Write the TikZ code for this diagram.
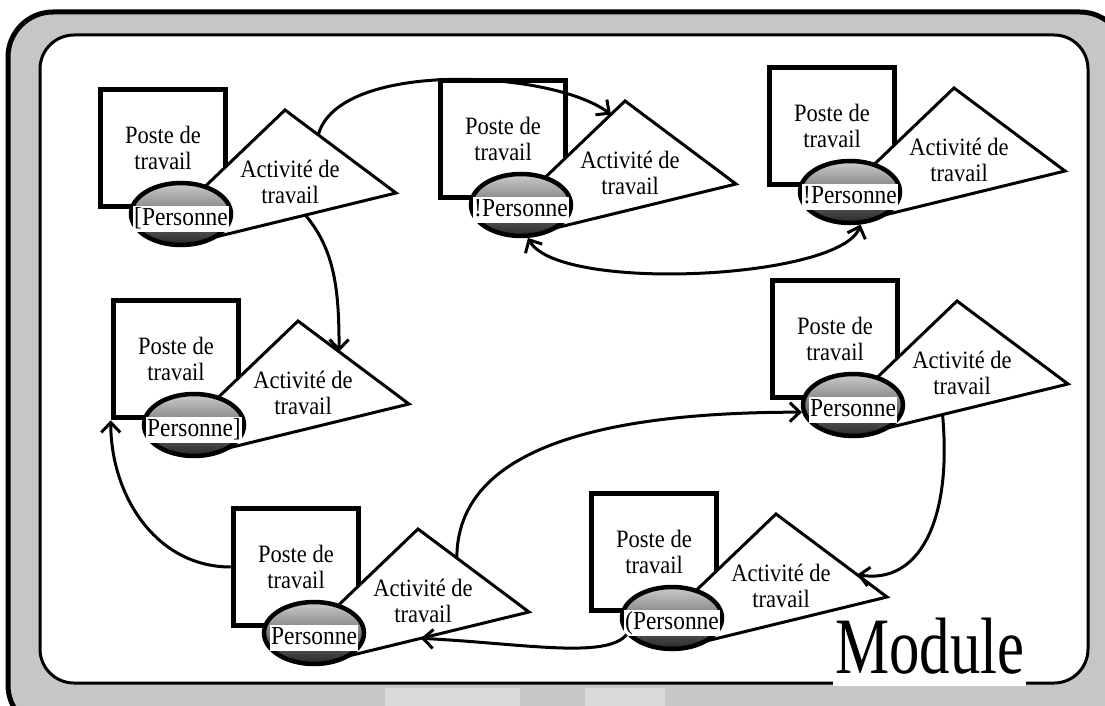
\documentclass[tikz,border=0pt]{standalone}
\usepackage{fontspec}
\setmainfont[FakeStretch=0.9]{Liberation Serif}
\newfontfamily\modulefont[FakeStretch=0.76]{Liberation Serif}
\usetikzlibrary{shapes.geometric,arrows.meta,calc}

\begin{document}
\begin{tikzpicture}[
  x=1pt, y=-1pt,
  >={Straight Barb[length=10pt,width=19pt]},
  poste/.style={draw, line width=5.5pt, fill=white, minimum width=125pt, minimum height=117pt,
    align=center, font=\fontsize{25}{26}\selectfont},
  activite/.style={draw, line width=3pt, fill=white},
  tache/.style={align=center, font=\fontsize{25}{26}\selectfont},
  personne/.style={ellipse, draw, line width=4.5pt, minimum width=100pt, minimum height=62pt,
    top color=gray!40, bottom color=black!85},
  nom/.style={fill=white, inner sep=1pt, text height=18pt, text depth=6pt,
    font=\fontsize{26}{26}\selectfont},
  lien/.style={line width=3pt},
  module/.style={fill=white, inner xsep=2pt, inner ysep=0pt, text depth=13pt,
    font=\modulefont\fontsize{80}{80}\selectfont}
]
  \useasboundingbox (0,0) rectangle (1105,706);

  % Frame
  \draw[fill=gray!45, line width=5pt, rounded corners=45pt] (8,12) rectangle (1125,730);
  \fill[gray!28] (385,688) rectangle (520,706);
  \fill[gray!28] (585,688) rectangle (665,706);
  \draw[fill=white, line width=3pt, rounded corners=34pt] (40,35) rectangle (1088,683);

  % Postes de travail
  \foreach \i/\x/\y/\nom in {1/181/214/{[Personne}, 2/521/205/{!Personne}, 3/850/192/{!Personne},
      4/194/425/{Personne]}, 5/853/405/{Personne}, 6/314/633/{Personne}, 7/672/618/{(Personne}}
  {
    \begin{scope}[shift={(\x,\y)}]
      \node[poste] (sq\i) at (-18,-66) {Poste de\\travail};

      % Activity
      \coordinate (act\i-apex) at (104,-104);
      \coordinate (act\i-tip) at (215,-21);
      \coordinate (act\i-foot) at (22,26);
      \coordinate (act\i-heel) at (10,-14);
      \draw[activite] (act\i-apex) -- (act\i-tip) -- (act\i-foot) -- (act\i-heel) -- cycle;
      \node[tache] (act\i) at (109,-32) {Activité de\\travail};

      % Person
      \node[personne] (pers\i) at (0,0) {};
      \node[nom] (nom\i) at (0,5) {\nom};
    \end{scope}
  }

  % Links
  \draw[lien,->] ($(act1-apex)!.3!(act1-tip)$) .. controls +(20,-75) and +(-60,-45) .. ($(act2-apex)!.15!(act2-heel)$);
  \draw[lien,->] ($(act1-tip)!.47!(act1-foot)$) .. controls +(30,35) and +(0,-60) .. ($(act4-apex)!.37!(act4-tip)$);
  \draw[lien,<->] (pers2.-78) .. controls +(30,55) and +(-20,55) .. (pers3.-72);
  \draw[lien,->] ($(act6-apex)!.35!(act6-tip)$) .. controls +(0,-110) and +(-200,0) .. (pers5.188);
  \draw[lien,->] ($(act5-tip)!.65!(act5-foot)$) .. controls +(10,110) and +(60,10) .. ($(act7-apex)!.73!(act7-tip)$);
  \draw[lien,->] (pers7.200) .. controls +(-20,25) and +(100,5) .. ($(act6-tip)!.56!(act6-foot)$);
  \draw[lien,->] (sq6.west) .. controls +(-75,0) and +(0,75) .. (sq4.south west);

  \node[module, anchor=base west] (module) at (833,673) {Module};
\end{tikzpicture}
\end{document}
